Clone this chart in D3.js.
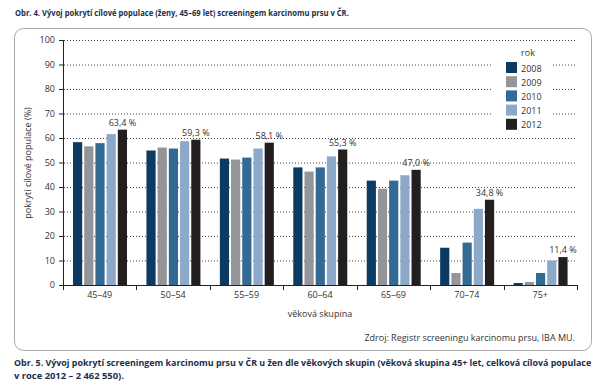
<!DOCTYPE html>
<html lang="cs">
<head>
<meta charset="UTF-8">
<title>Vývoj pokrytí screeningem karcinomu prsu</title>
<script src="https://d3js.org/d3.v7.min.js"></script>
<style>
  html, body { margin: 0; background: #fff; }
  svg { display: block; }
  text { font-family: "Open Sans", "Noto Sans", sans-serif; fill: #333; }
  .caption { font-weight: 700; fill: #1b2f4d; font-size: 9.5px; }
  .axis text { font-size: 9px; fill: #333; }
  .axis path, .axis line { stroke: #222; }
  .grid line { stroke: #444; stroke-dasharray: 1,2; }
</style>
</head>
<body>
<svg width="611" height="389"></svg>
<script>
// data
const groups = ["45–49", "50–54", "55–59", "60–64", "65–69", "70–74", "75+"];
const years = ["2008", "2009", "2010", "2011", "2012"];
const v2008 = [58.3, 54.9, 51.6, 48.0, 42.6, 15.2, 0.8];
const v2009 = [56.6, 56.1, 51.2, 46.3, 39.3, 4.9, 1.2];
const v2010 = [57.9, 55.7, 52.0, 48.0, 42.6, 17.3, 4.9];
const v2011 = [61.6, 58.7, 55.7, 52.5, 44.8, 31.1, 10.0];
const v2012 = [63.4, 59.3, 58.1, 55.3, 47.0, 34.8, 11.4];
const labels2012 = ["63,4 %", "59,3 %", "58,1 %", "55,3 %", "47,0 %", "34,8 %", "11,4 %"];
const colors = ["#0b3a63", "#949599", "#336a94", "#8ca9c9", "#231f20"];
const yTicks = [0, 10, 20, 30, 40, 50, 60, 70, 80, 90, 100];

const series = [v2008, v2009, v2010, v2011, v2012];

const svg = d3.select("svg");

// frame
svg.append("rect")
  .attr("x", 14.5).attr("y", 28.5)
  .attr("width", 577).attr("height", 322)
  .attr("rx", 9)
  .attr("fill", "#fff")
  .attr("stroke", "#a9a9a9");

// captions, squeezed horizontally to the width they have in the figure
function caption(x, yPos, width, str) {
  const t = svg.append("text").attr("class", "caption")
    .attr("x", 0).attr("y", 0)
    .text(str);
  const w = t.node().getComputedTextLength();
  t.attr("transform", `translate(${x},${yPos}) scale(${width / w},1)`);
}
caption(15, 16, 334, "Obr. 4. Vývoj pokrytí cílové populace (ženy, 45–69 let) screeningem karcinomu prsu v ČR.");
caption(14, 366, 578, "Obr. 5. Vývoj pokrytí screeningem karcinomu prsu v ČR u žen dle věkových skupin (věková skupina 45+ let, celková cílová populace");
caption(14, 379, 110, "v roce 2012 – 2 462 550).");

// scales
const x0 = d3.scaleBand().domain(groups).range([63, 577]);
const x1 = d3.scaleBand().domain(years).range([10, 64]).paddingInner(0.18);
const y = d3.scaleLinear().domain([0, 100]).range([285, 40]);

// gridlines
svg.append("g").attr("class", "grid")
  .selectAll("line")
  .data(yTicks.filter(d => d > 0))
  .join("line")
  .attr("x1", 64).attr("x2", 577)
  .attr("y1", d => y(d) + 0.5).attr("y2", d => y(d) + 0.5);

// bars
const g = svg.append("g")
  .selectAll("g")
  .data(groups)
  .join("g")
  .attr("transform", d => `translate(${x0(d)},0)`);

g.selectAll("rect")
  .data((d, i) => series.map((s, k) => ({ year: years[k], value: s[i], color: colors[k] })))
  .join("rect")
  .attr("x", d => x1(d.year))
  .attr("width", x1.bandwidth())
  .attr("y", d => y(d.value))
  .attr("height", d => y(0) - y(d.value))
  .attr("fill", d => d.color);

// value labels over 2012
g.append("text")
  .attr("x", x1("2012") + x1.bandwidth() / 2)
  .attr("y", (d, i) => y(v2012[i]) - 4)
  .attr("text-anchor", "middle")
  .attr("font-size", 9)
  .attr("fill", "#444")
  .text((d, i) => labels2012[i]);

// legend background hides gridlines
svg.append("rect")
  .attr("x", 492).attr("y", 44)
  .attr("width", 60).attr("height", 76)
  .attr("fill", "#fff");

const legend = svg.append("g");
legend.append("text")
  .attr("x", 528).attr("y", 56)
  .attr("text-anchor", "middle")
  .attr("font-size", 9)
  .text("rok");
years.forEach((yr, k) => {
  legend.append("rect")
    .attr("x", 506).attr("y", 62 + k * 14.2)
    .attr("width", 11).attr("height", 11)
    .attr("fill", colors[k]);
  legend.append("text")
    .attr("x", 521).attr("y", 71.5 + k * 14.2)
    .attr("font-size", 9)
    .text(yr);
});

// axes
svg.append("g").attr("class", "axis")
  .attr("transform", "translate(63,0)")
  .call(d3.axisLeft(y).tickValues(yTicks).tickSize(4).tickPadding(4))
  .call(a => a.select(".domain").attr("d", "M0.5,40V285.5"));

const xAxis = svg.append("g").attr("class", "axis")
  .attr("transform", "translate(0,285)");
xAxis.append("line")
  .attr("x1", 63).attr("x2", 577.5)
  .attr("y1", 0.5).attr("y2", 0.5)
  .attr("stroke", "#222");
xAxis.selectAll(".tk")
  .data(groups.map(d => x0(d)).concat([x0.range()[1]]))
  .join("line")
  .attr("x1", d => Math.round(d) + 0.5).attr("x2", d => Math.round(d) + 0.5)
  .attr("y1", 0).attr("y2", 5)
  .attr("stroke", "#222");
xAxis.selectAll(".lbl")
  .data(groups)
  .join("text")
  .attr("x", d => x0(d) + x0.bandwidth() / 2)
  .attr("y", 13)
  .attr("text-anchor", "middle")
  .text(d => d);

// axis titles
svg.append("text")
  .attr("transform", "translate(31,163) rotate(-90)")
  .attr("text-anchor", "middle")
  .attr("font-size", 9)
  .text("pokrytí cílové populace (%)");
svg.append("text")
  .attr("x", 320).attr("y", 317)
  .attr("text-anchor", "middle")
  .attr("font-size", 9)
  .text("věková skupina");

// source
svg.append("text")
  .attr("x", 575).attr("y", 341)
  .attr("text-anchor", "end")
  .attr("font-size", 9)
  .text("Zdroj: Registr screeningu karcinomu prsu, IBA MU.");
</script>
</body>
</html>
